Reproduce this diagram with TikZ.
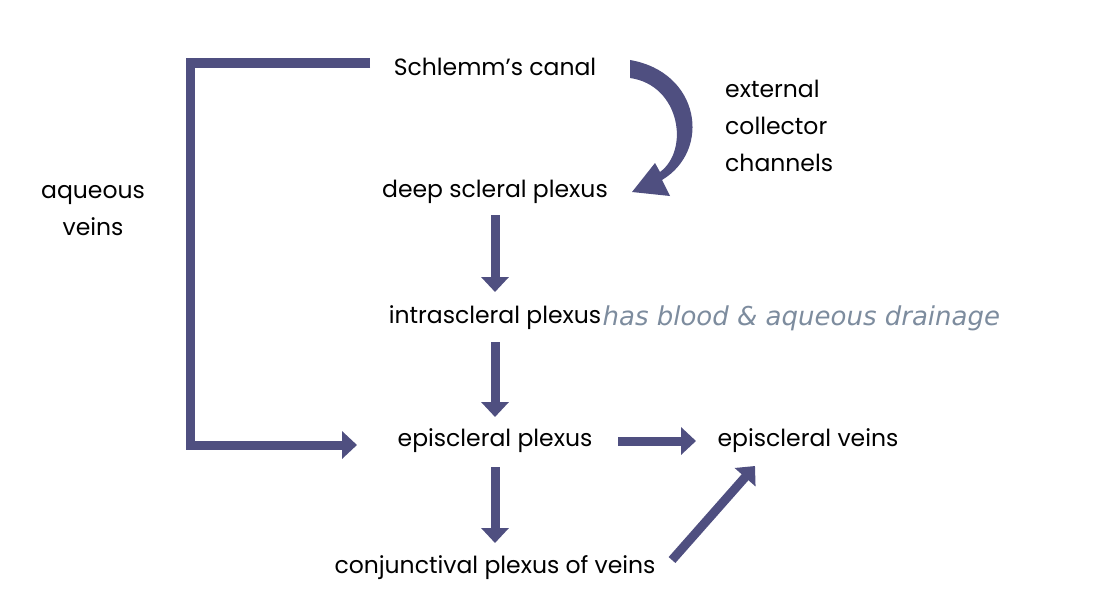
\documentclass[tikz,border=0pt]{standalone}
\usepackage{fontspec}
\setmainfont{Poppins}
\newfontfamily\handfont{DejaVu Sans}
\usetikzlibrary{arrows.meta,positioning}
\definecolor{slate}{HTML}{4F4F80}
\definecolor{pen}{HTML}{7D8C9E}
\begin{document}
\begin{tikzpicture}
        [x=1pt,y=-1pt,
        label/.style={font=\fontsize{23.5}{37}\selectfont, inner sep=1pt},
        flow/.style={slate, line width=9pt, -{Triangle[length=15pt,width=27pt]}}]
        \useasboundingbox (0,0) rectangle (1094,610);
        \node[label] (schlemm) at (495,67) {Schlemm’s canal};
        \node[label] (deep) at (495,192) {deep scleral plexus};
        \node[label] (intra) at (495,318) {intrascleral plexus};
        \node[label] (epi) at (495,441) {episcleral plexus};
        \node[label] (veins) at (808,441) {episcleral veins};
        \node[label] (conj) at (495,568) {conjunctival plexus of veins};
        \node[label, align=center] (aqueous) at (93,211) {aqueous\\veins};
        \node[label, align=left, anchor=west] (external) at (724,126) {external\\collector\\channels};
        \node[pen, anchor=west, inner sep=0pt, font=\handfont\itshape\fontsize{26}{28}\selectfont] (note) at (intra.east) {has blood \& aqueous drainage};
        \coordinate (d1) at (495,215);
        \coordinate (d2) at (495,292);
        \coordinate (i1) at (495,342);
        \coordinate (i2) at (495,417);
        \coordinate (e1) at (495,467);
        \coordinate (e2) at (495,543);
        \coordinate (h1) at (618,441);
        \coordinate (h2) at (696,441);
        \draw[flow] (d1) -- (d2);
        \draw[flow] (i1) -- (i2);
        \draw[flow] (e1) -- (e2);
        \draw[flow] (h1) -- (h2);
        \coordinate (c1) at (672,560);
        \coordinate (c2) at (755,466);
        \draw[flow] (c1) -- (c2);
        \coordinate (b1) at (370,63);
        \coordinate (b2) at (357,445);
        \draw[flow, line join=miter] (b1) -- (190,63) -- (190,445) -- (b2);
        % curved channel
        \coordinate (k1) at (630,70);
        \fill[slate] (k1) -- ++(0,-10) .. controls (700,72) and (712,150) .. (662,180)
            -- (670,196) -- (632,192) -- (655,163) -- (660,172)
            .. controls (690,150) and (680,85) .. (630,78) -- cycle;
\end{tikzpicture}
\end{document}
